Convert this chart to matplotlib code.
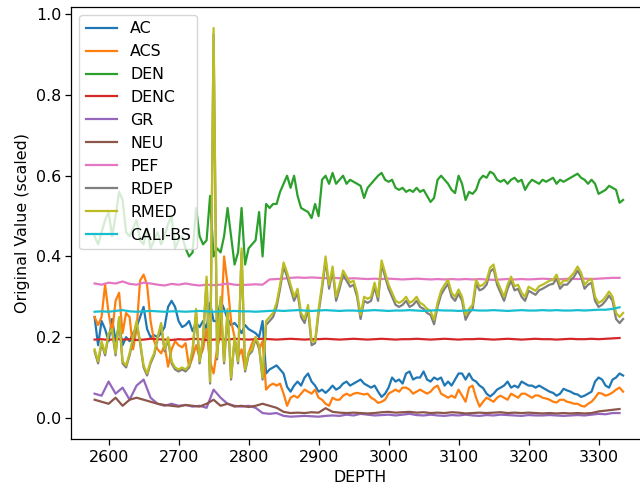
import numpy as np
import matplotlib
matplotlib.use("Agg")
import matplotlib.pyplot as plt

plt.rcParams['font.family'] = ['DejaVu Sans']
plt.rcParams['font.size'] = 11.4
plt.rcParams['axes.linewidth'] = 0.9
plt.rcParams['xtick.major.size'] = 4
plt.rcParams['ytick.major.size'] = 4
plt.rcParams['xtick.major.width'] = 0.9
plt.rcParams['ytick.major.width'] = 0.9

# fine depth grid (step 5) and coarse grid (step 10)
depth = np.arange(2580, 3336, 5)
depth_c = np.arange(2580, 3331, 10)

ac = [0.25, 0.18, 0.24, 0.22, 0.19, 0.245, 0.19, 0.23, 0.18, 0.20,
      0.19, 0.21, 0.225, 0.25, 0.275, 0.22, 0.20, 0.205, 0.20, 0.21,
      0.225, 0.275, 0.29, 0.275, 0.24, 0.225, 0.23, 0.24, 0.215, 0.235,
      0.225, 0.24, 0.22, 0.285, 0.24, 0.24, 0.29, 0.27, 0.245, 0.23,
      0.235, 0.225, 0.21, 0.23, 0.22, 0.215, 0.21, 0.20, 0.24, 0.11,
      0.12, 0.125, 0.13, 0.12, 0.11, 0.077, 0.065, 0.08, 0.09, 0.08,
      0.10, 0.11, 0.09, 0.08, 0.065, 0.07, 0.062, 0.07, 0.08, 0.07,
      0.075, 0.085, 0.09, 0.08, 0.085, 0.09, 0.095, 0.085, 0.08, 0.075,
      0.08, 0.065, 0.052, 0.06, 0.075, 0.10, 0.09, 0.095, 0.085, 0.11,
      0.115, 0.095, 0.10, 0.10, 0.115, 0.095, 0.09, 0.10, 0.095, 0.10,
      0.08, 0.09, 0.08, 0.095, 0.11, 0.11, 0.095, 0.11, 0.095, 0.09,
      0.08, 0.074, 0.06, 0.053, 0.06, 0.07, 0.075, 0.08, 0.09, 0.075,
      0.08, 0.075, 0.09, 0.085, 0.08, 0.08, 0.075, 0.08, 0.075, 0.07,
      0.065, 0.062, 0.055, 0.06, 0.072, 0.068, 0.065, 0.06, 0.058, 0.052,
      0.055, 0.06, 0.065, 0.09, 0.10, 0.095, 0.08, 0.075, 0.095, 0.10,
      0.11, 0.105]

acs = [0.25, 0.23, 0.25, 0.33, 0.26, 0.21, 0.29, 0.31, 0.21, 0.26,
       0.25, 0.17, 0.22, 0.34, 0.355, 0.33, 0.24, 0.19, 0.17, 0.16,
       0.18, 0.127, 0.17, 0.19, 0.18, 0.175, 0.185, 0.125, 0.15, 0.18,
       0.15, 0.17, 0.22, 0.14, 0.11, 0.17, 0.21, 0.40, 0.33, 0.24,
       0.20, 0.15, 0.17, 0.12, 0.16, 0.185, 0.20, 0.17, 0.19, 0.07,
       0.08, 0.085, 0.08, 0.085, 0.06, 0.03, 0.05, 0.055, 0.05, 0.06,
       0.07, 0.065, 0.06, 0.07, 0.05, 0.045, 0.035, 0.03, 0.05, 0.045,
       0.045, 0.055, 0.06, 0.055, 0.06, 0.062, 0.06, 0.058, 0.06, 0.05,
       0.045, 0.037, 0.04, 0.045, 0.06, 0.065, 0.07, 0.065, 0.075, 0.075,
       0.07, 0.06, 0.065, 0.07, 0.065, 0.06, 0.065, 0.075, 0.08, 0.06,
       0.055, 0.05, 0.055, 0.05, 0.07, 0.055, 0.04, 0.075, 0.08, 0.05,
       0.028, 0.04, 0.05, 0.045, 0.04, 0.05, 0.055, 0.05, 0.045, 0.06,
       0.055, 0.05, 0.06, 0.06, 0.055, 0.05, 0.056, 0.055, 0.05, 0.048,
       0.045, 0.04, 0.038, 0.045, 0.045, 0.04, 0.038, 0.035, 0.035, 0.03,
       0.028, 0.035, 0.04, 0.05, 0.062, 0.06, 0.055, 0.058, 0.063, 0.07,
       0.075, 0.065]

den = [0.45, 0.43, 0.46, 0.49, 0.51, 0.45, 0.50, 0.56, 0.54, 0.46,
       0.45, 0.47, 0.49, 0.44, 0.43, 0.47, 0.42, 0.44, 0.46, 0.43,
       0.45, 0.48, 0.50, 0.42, 0.44, 0.45, 0.42, 0.40, 0.41, 0.52,
       0.45, 0.43, 0.44, 0.55, 0.40, 0.42, 0.41, 0.45, 0.52, 0.45,
       0.38, 0.41, 0.52, 0.38, 0.42, 0.43, 0.44, 0.51, 0.40, 0.53,
       0.52, 0.53, 0.53, 0.56, 0.58, 0.60, 0.57, 0.60, 0.55, 0.52,
       0.515, 0.51, 0.495, 0.53, 0.50, 0.59, 0.60, 0.58, 0.607, 0.58,
       0.59, 0.60, 0.58, 0.59, 0.585, 0.58, 0.575, 0.545, 0.57, 0.58,
       0.59, 0.60, 0.607, 0.59, 0.585, 0.59, 0.57, 0.565, 0.57, 0.56,
       0.565, 0.56, 0.57, 0.56, 0.565, 0.55, 0.535, 0.545, 0.59, 0.60,
       0.59, 0.58, 0.565, 0.557, 0.60, 0.58, 0.54, 0.56, 0.555, 0.565,
       0.59, 0.60, 0.595, 0.61, 0.605, 0.59, 0.585, 0.59, 0.58, 0.59,
       0.595, 0.585, 0.59, 0.565, 0.58, 0.59, 0.585, 0.58, 0.59, 0.585,
       0.59, 0.595, 0.58, 0.59, 0.585, 0.59, 0.595, 0.60, 0.605, 0.595,
       0.59, 0.58, 0.59, 0.58, 0.555, 0.56, 0.565, 0.575, 0.57, 0.565,
       0.533, 0.54]

rdep = [0.165, 0.135, 0.185, 0.155, 0.205, 0.215, 0.155, 0.245, 0.135, 0.125,
        0.155, 0.195, 0.235, 0.185, 0.125, 0.105, 0.135, 0.155, 0.195, 0.23,
        0.165, 0.195, 0.135, 0.12, 0.115, 0.12, 0.115, 0.125, 0.165, 0.26,
        0.135, 0.195, 0.34, 0.085, 0.95, 0.145, 0.29, 0.135, 0.26, 0.095,
        0.195, 0.135, 0.41, 0.115, 0.155, 0.165, 0.195, 0.175, 0.095, 0.23,
        0.24, 0.25, 0.275, 0.32, 0.375, 0.35, 0.32, 0.29, 0.31, 0.25,
        0.235, 0.27, 0.18, 0.185, 0.26, 0.32, 0.39, 0.32, 0.365, 0.29,
        0.32, 0.355, 0.34, 0.325, 0.33, 0.30, 0.245, 0.29, 0.285, 0.29,
        0.325, 0.29, 0.38, 0.35, 0.32, 0.30, 0.28, 0.275, 0.28, 0.29,
        0.275, 0.28, 0.29, 0.275, 0.27, 0.26, 0.255, 0.232, 0.275, 0.305,
        0.32, 0.332, 0.30, 0.29, 0.308, 0.29, 0.243, 0.26, 0.27, 0.332,
        0.316, 0.32, 0.33, 0.362, 0.37, 0.33, 0.31, 0.29, 0.32, 0.34,
        0.316, 0.32, 0.30, 0.29, 0.315, 0.31, 0.305, 0.316, 0.32, 0.325,
        0.33, 0.332, 0.345, 0.32, 0.33, 0.33, 0.34, 0.35, 0.365, 0.35,
        0.32, 0.33, 0.335, 0.29, 0.275, 0.28, 0.29, 0.303, 0.29, 0.245,
        0.235, 0.245]

rmed = [0.17, 0.14, 0.19, 0.16, 0.21, 0.22, 0.16, 0.25, 0.14, 0.13,
        0.16, 0.20, 0.24, 0.19, 0.13, 0.11, 0.14, 0.16, 0.20, 0.235,
        0.17, 0.20, 0.14, 0.125, 0.12, 0.125, 0.12, 0.13, 0.17, 0.27,
        0.14, 0.20, 0.35, 0.09, 0.966, 0.15, 0.30, 0.14, 0.27, 0.10,
        0.20, 0.14, 0.42, 0.12, 0.16, 0.17, 0.20, 0.18, 0.10, 0.24,
        0.25, 0.26, 0.285, 0.33, 0.385, 0.36, 0.33, 0.30, 0.32, 0.26,
        0.245, 0.28, 0.19, 0.19, 0.27, 0.33, 0.40, 0.33, 0.375, 0.30,
        0.33, 0.365, 0.35, 0.335, 0.34, 0.31, 0.255, 0.30, 0.295, 0.30,
        0.335, 0.30, 0.39, 0.36, 0.33, 0.31, 0.29, 0.285, 0.29, 0.30,
        0.285, 0.29, 0.30, 0.285, 0.28, 0.27, 0.265, 0.243, 0.285, 0.315,
        0.33, 0.342, 0.31, 0.30, 0.318, 0.30, 0.255, 0.27, 0.28, 0.342,
        0.326, 0.33, 0.34, 0.372, 0.38, 0.34, 0.32, 0.30, 0.33, 0.35,
        0.326, 0.33, 0.31, 0.30, 0.325, 0.32, 0.315, 0.326, 0.33, 0.335,
        0.34, 0.342, 0.355, 0.33, 0.34, 0.34, 0.35, 0.36, 0.375, 0.36,
        0.33, 0.34, 0.345, 0.30, 0.285, 0.29, 0.30, 0.313, 0.30, 0.26,
        0.25, 0.26]

denc = [0.194, 0.195, 0.193, 0.196, 0.194, 0.195, 0.193, 0.194, 0.196, 0.195,
        0.194, 0.193, 0.195, 0.194, 0.196, 0.195, 0.193, 0.194, 0.195, 0.194,
        0.196, 0.195, 0.194, 0.195, 0.196, 0.195, 0.194, 0.195, 0.196, 0.195,
        0.194, 0.195, 0.195, 0.196, 0.195, 0.194, 0.195, 0.196, 0.195, 0.194,
        0.195, 0.196, 0.195, 0.194, 0.195, 0.195, 0.196, 0.195, 0.194, 0.195,
        0.196, 0.195, 0.194, 0.195, 0.195, 0.196, 0.195, 0.194, 0.195, 0.196,
        0.195, 0.194, 0.195, 0.196, 0.195, 0.195, 0.194, 0.195, 0.196, 0.195,
        0.195, 0.196, 0.195, 0.196, 0.197, 0.198]

gr = [0.06, 0.055, 0.09, 0.06, 0.075, 0.045, 0.08, 0.095, 0.05, 0.035,
      0.03, 0.035, 0.03, 0.032, 0.028, 0.03, 0.025, 0.07, 0.05, 0.035,
      0.03, 0.028, 0.03, 0.025, 0.012, 0.01, 0.012, 0.005, 0.003, 0.004,
      0.005, 0.004, 0.003, 0.005, 0.006, 0.005, 0.008, 0.006, 0.01, 0.008,
      0.006, 0.007, 0.008, 0.006, 0.008, 0.01, 0.007, 0.006, 0.008, 0.006,
      0.005, 0.007, 0.006, 0.008, 0.006, 0.005, 0.007, 0.006, 0.008, 0.007,
      0.006, 0.005, 0.007, 0.006, 0.006, 0.007, 0.006, 0.005, 0.006, 0.007,
      0.006, 0.008, 0.01, 0.009, 0.012, 0.012]

neu = [0.045, 0.04, 0.035, 0.05, 0.03, 0.045, 0.05, 0.045, 0.04, 0.035,
       0.032, 0.03, 0.028, 0.032, 0.03, 0.028, 0.035, 0.045, 0.03, 0.035,
       0.028, 0.03, 0.027, 0.03, 0.035, 0.03, 0.025, 0.015, 0.012, 0.013,
       0.012, 0.014, 0.013, 0.024, 0.015, 0.013, 0.012, 0.013, 0.012, 0.011,
       0.012, 0.014, 0.015, 0.013, 0.014, 0.015, 0.013, 0.014, 0.012, 0.013,
       0.012, 0.014, 0.013, 0.011, 0.012, 0.013, 0.012, 0.013, 0.014, 0.012,
       0.013, 0.012, 0.013, 0.012, 0.011, 0.012, 0.011, 0.012, 0.011, 0.012,
       0.011, 0.012, 0.016, 0.018, 0.02, 0.022]

pef = [0.333, 0.33, 0.335, 0.333, 0.338, 0.332, 0.33, 0.335, 0.333, 0.33,
       0.328, 0.332, 0.33, 0.333, 0.33, 0.328, 0.33, 0.329, 0.33, 0.333,
       0.33, 0.329, 0.33, 0.331, 0.33, 0.343, 0.344, 0.345, 0.347, 0.348,
       0.347, 0.348, 0.347, 0.346, 0.347, 0.346, 0.345, 0.346, 0.345, 0.344,
       0.345, 0.344, 0.345, 0.344, 0.343, 0.344, 0.345, 0.344, 0.343, 0.344,
       0.343, 0.344, 0.343, 0.344, 0.343, 0.344, 0.343, 0.342, 0.343, 0.344,
       0.343, 0.344, 0.343, 0.344, 0.345, 0.344, 0.343, 0.344, 0.345, 0.344,
       0.345, 0.344, 0.345, 0.346, 0.347, 0.347]

cali = [0.263, 0.264, 0.263, 0.265, 0.267, 0.264, 0.263, 0.264, 0.265, 0.264,
        0.263, 0.264, 0.264, 0.263, 0.264, 0.265, 0.264, 0.263, 0.264, 0.264,
        0.265, 0.264, 0.264, 0.263, 0.264, 0.265, 0.266, 0.265, 0.266, 0.267,
        0.266, 0.265, 0.266, 0.267, 0.266, 0.265, 0.266, 0.266, 0.265, 0.266,
        0.267, 0.266, 0.265, 0.266, 0.266, 0.267, 0.266, 0.265, 0.266, 0.267,
        0.266, 0.266, 0.265, 0.266, 0.267, 0.266, 0.266, 0.267, 0.266, 0.265,
        0.266, 0.267, 0.266, 0.266, 0.267, 0.266, 0.267, 0.266, 0.266, 0.267,
        0.266, 0.267, 0.268, 0.268, 0.27, 0.274]

series = [("AC", depth, ac), ("ACS", depth, acs), ("DEN", depth, den),
          ("DENC", depth_c, denc), ("GR", depth_c, gr), ("NEU", depth_c, neu),
          ("PEF", depth_c, pef), ("RDEP", depth, rdep), ("RMED", depth, rmed),
          ("CALI-BS", depth_c, cali)]

fig = plt.figure(figsize=(6.4, 4.9), dpi=100)
ax = fig.add_axes([0.1117, 0.1035, 0.9034, 0.8822])
for name, x, y in series:
    ax.plot(x, y, label=name, linewidth=1.6)

ax.set_xlim(2547, 3373)
ax.set_ylim(-0.053, 1.018)
ax.set_xticks([2600, 2700, 2800, 2900, 3000, 3100, 3200, 3300])
ax.set_yticks([0.0, 0.2, 0.4, 0.6, 0.8, 1.0])
ax.set_xlabel("DEPTH")
ax.set_ylabel("Original Value (scaled)")
ax.legend(loc="upper left")
fig.savefig("out.png", dpi=100)
